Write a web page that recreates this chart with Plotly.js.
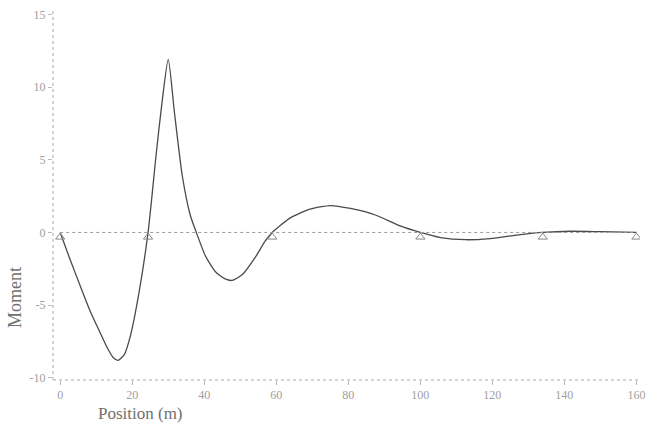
<!DOCTYPE html>
<html>
<head>
<meta charset="utf-8">
<script src="https://cdn.plot.ly/plotly-3.0.1.min.js"></script>
<style>
  html, body { margin: 0; padding: 0; background: #fff; }
  #chart { width: 650px; height: 426px; }
</style>
</head>
<body>
<div id="chart"></div>
<script>
// Bending moment along the continuous beam
const position = [0, 2.8, 5.6, 8.3, 11.1, 13, 14.7, 16.1, 17.8, 19.4, 21.7, 24.4,
  26.7, 28.3, 30, 31.7, 33.9, 36.1, 37.8, 40.3, 43.1, 45.8, 47.8, 50.6, 54.2, 56.9,
  58.9, 63.9, 69.4, 75, 80.6, 87.5, 94.4, 100, 105.6, 112.5, 119.4, 127.8, 134,
  141.7, 150, 160];
const moment = [0, -1.9, -3.7, -5.4, -6.9, -7.9, -8.6, -8.8, -8.4, -7.2, -4.4, 0,
  5.5, 9.0, 11.9, 8.3, 3.9, 1.2, 0, -1.6, -2.7, -3.2, -3.3, -2.9, -1.7, -0.6,
  0, 1.0, 1.6, 1.85, 1.65, 1.2, 0.45, 0, -0.35, -0.5, -0.42, -0.15, 0,
  0.08, 0.05, 0];

// Support locations along the beam
const supports = [0, 24.4, 58.9, 100, 134, 160];

const xTicks = [0, 20, 40, 60, 80, 100, 120, 140, 160];
const yTicks = [-10, -5, 0, 5, 10, 15];

const serif = 'Liberation Serif, DejaVu Serif, serif';
const gray = '#a0a0a0';

const traces = [
  {
    x: position, y: moment, mode: 'lines', type: 'scatter',
    line: { color: '#4a4a4a', width: 1.3, shape: 'spline', smoothing: 0.6 },
    hoverinfo: 'skip', showlegend: false
  },
  {
    x: supports, y: supports.map(() => -0.32), mode: 'markers', type: 'scatter',
    marker: { symbol: 'triangle-up-open', size: 8, color: '#888', line: { width: 1, color: '#888' } },
    hoverinfo: 'skip', showlegend: false
  }
];

const layout = {
  width: 650, height: 426,
  margin: { l: 53, r: 10, t: 10, b: 46 },
  paper_bgcolor: '#fff', plot_bgcolor: '#fff',
  showlegend: false,
  font: { family: serif, color: gray, size: 12 },
  xaxis: {
    range: [-2, 161], tickvals: xTicks, ticktext: xTicks.map(String),
    ticks: 'outside', ticklen: 4, tickcolor: '#bbb', tickwidth: 1,
    showgrid: false, zeroline: false, showline: false,
    tickfont: { family: serif, size: 12, color: gray }
  },
  yaxis: {
    range: [-10.15, 15.3], tickvals: yTicks, ticktext: yTicks.map(String),
    ticks: 'outside', ticklen: 4, tickcolor: '#bbb', tickwidth: 1,
    showgrid: false, zeroline: false, showline: false,
    tickfont: { family: serif, size: 12, color: gray }
  },
  shapes: [
    // dotted axis frame lines
    { type: 'line', xref: 'paper', yref: 'paper', x0: 0, x1: 0, y0: 0, y1: 1,
      line: { color: '#aaa', width: 1, dash: 'dot' } },
    { type: 'line', xref: 'paper', yref: 'paper', x0: 0, x1: 1, y0: 0, y1: 0,
      line: { color: '#aaa', width: 1, dash: 'dot' } },
    // baseline of the beam
    { type: 'line', xref: 'x', yref: 'y', x0: supports[0], x1: supports[supports.length - 1], y0: 0, y1: 0,
      line: { color: '#999', width: 1, dash: 'dot' } }
  ],
  annotations: [
    { text: 'Position (m)', xref: 'paper', yref: 'paper', x: (140 - 53) / 587, y: 0,
      yshift: -22, xanchor: 'center', yanchor: 'top', showarrow: false,
      font: { family: serif, size: 17, color: '#707070' } },
    { text: 'Moment', xref: 'paper', yref: 'paper', x: 0, xshift: -38, y: (380 - 298) / 370,
      xanchor: 'center', yanchor: 'middle', textangle: -90, showarrow: false,
      font: { family: serif, size: 18, color: '#707070' } }
  ]
};

Plotly.newPlot('chart', traces, layout, { staticPlot: true, displayModeBar: false });
</script>
</body>
</html>
